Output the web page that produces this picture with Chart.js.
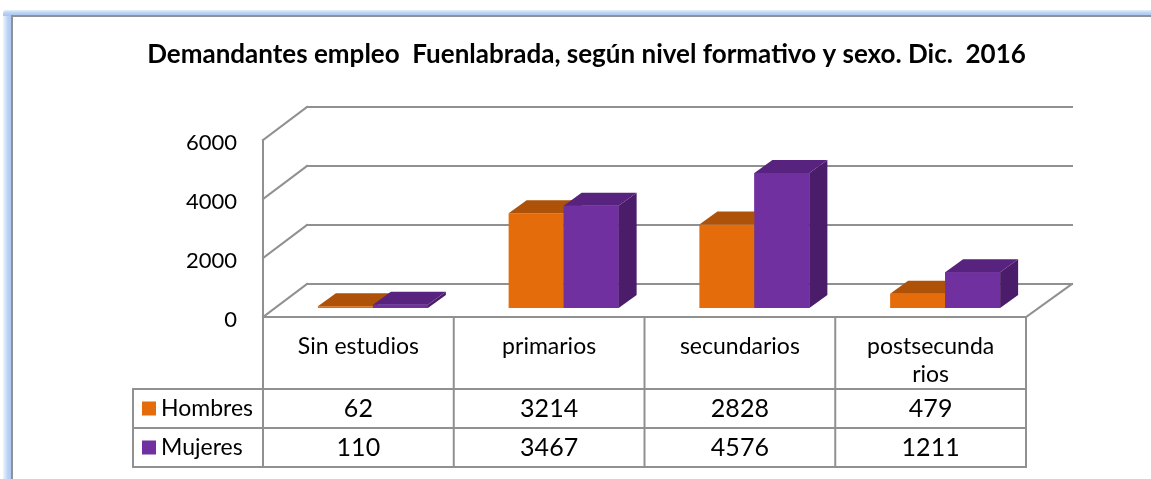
<!DOCTYPE html>
<html><head><meta charset="utf-8">
<script src="https://cdn.jsdelivr.net/npm/chart.js@4.4.1/dist/chart.umd.min.js"></script>
<style>
html,body{margin:0;padding:0;background:#fff;overflow:hidden;width:1151px;height:479px;}
.sl{position:absolute;left:3px;top:10px;width:9px;height:520px;background:linear-gradient(to right,#eef4fd,#bcd5f5 50%,#a7c5ee);border-top-left-radius:4px;}
.st{position:absolute;left:3px;top:10px;width:1200px;height:6px;background:linear-gradient(to bottom,#e6effc,#b8d2f4 50%,#a7c5ee);border-top-left-radius:4px;}
.gl{position:absolute;left:11px;top:15px;width:1200px;height:520px;border-left:2px solid #8f9296;border-top:2px solid #8f9296;background:#fff;}
canvas{position:absolute;left:0;top:0;}
</style></head>
<body>
<div class="sl"></div><div class="st"></div><div class="gl"></div>
<canvas id="c" width="1151" height="479"></canvas>
<script>
const titleText = 'Demandantes empleo  Fuenlabrada, según nivel formativo y sexo. Dic.  2016';
const categories = ['Sin estudios', 'primarios', 'secundarios', 'postsecundarios'];
const categoryLines = [['Sin estudios'], ['primarios'], ['secundarios'], ['postsecunda', 'rios']];
const seriesNames = ['Hombres', 'Mujeres'];
const hombres = [62, 3214, 2828, 479];
const mujeres = [110, 3467, 4576, 1211];
const yTicks = [0, 2000, 4000, 6000];

const frontColors = ['#E46C0A', '#7030A0'];
const topColors = ['#AE520A', '#58227F'];
const sideColors = ['#9A4808', '#4A1C69'];

const FONT = 'Lato, "Open Sans", sans-serif';
const FLOOR_DX = 44, FLOOR_DY = -33;   // depth of the 3D walls
const BAR_OX = 14.5, BAR_OY = -9;      // bar plane inside the depth
const BAR_DX = 18, BAR_DY = -13;       // bar depth
const LINE = '#909090';

function poly(ctx, pts, color) {
  ctx.beginPath();
  ctx.moveTo(pts[0][0], pts[0][1]);
  for (let i = 1; i < pts.length; i++) ctx.lineTo(pts[i][0], pts[i][1]);
  ctx.closePath();
  ctx.fillStyle = color;
  ctx.fill();
}
function line(ctx, x1, y1, x2, y2) {
  ctx.beginPath(); ctx.moveTo(x1, y1); ctx.lineTo(x2, y2); ctx.stroke();
}

const threeD = {
  id: 'threeD',
  beforeDatasetsDraw(chart) {
    const ctx = chart.ctx, a = chart.chartArea, ys = chart.scales.y;
    ctx.save();
    ctx.strokeStyle = LINE; ctx.lineWidth = 2; ctx.lineCap = 'square';
    const L = a.left, R = a.right;
    yTicks.forEach(v => {
      const y = ys.getPixelForValue(v);
      line(ctx, L, y, L + FLOOR_DX, y + FLOOR_DY);
      line(ctx, L + FLOOR_DX, y + FLOOR_DY, R + FLOOR_DX + 2, y + FLOOR_DY);
    });
    const y0 = ys.getPixelForValue(0);
    line(ctx, L, ys.getPixelForValue(yTicks[yTicks.length - 1]), L, y0);
    line(ctx, L, y0, R, y0);
    line(ctx, R, y0, R + FLOOR_DX + 2, y0 + FLOOR_DY);
    ctx.restore();
    ctx.save();
    ctx.translate(BAR_OX, BAR_OY);
  },
  afterDatasetsDraw(chart) {
    const ctx = chart.ctx;
    const m0 = chart.getDatasetMeta(0), m1 = chart.getDatasetMeta(1);
    const faces = (el, k) => {
      const p = el.getProps(['x', 'y', 'base', 'width'], true);
      const l = p.x - p.width / 2, r = p.x + p.width / 2;
      poly(ctx, [[r, p.y], [r + BAR_DX, p.y + BAR_DY], [r + BAR_DX, p.base + BAR_DY], [r, p.base]], sideColors[k]);
      poly(ctx, [[l, p.y], [r, p.y], [r + BAR_DX, p.y + BAR_DY], [l + BAR_DX, p.y + BAR_DY]], topColors[k]);
    };
    categories.forEach((c, i) => {
      faces(m0.data[i], 0);
      m1.data[i].draw(ctx);
      faces(m1.data[i], 1);
    });
    ctx.restore();
  },
  afterDraw(chart) {
    const ctx = chart.ctx, a = chart.chartArea, xs = chart.scales.x, ys = chart.scales.y;
    const y0 = ys.getPixelForValue(0);
    const colW = (a.right - a.left) / categories.length;
    const rowH = [72, 39, 39];
    const r1 = y0 + rowH[0], r2 = r1 + rowH[1], r3 = r2 + rowH[2];
    const legL = 133;
    ctx.save();
    // title
    ctx.fillStyle = '#000';
    ctx.font = 'bold 26px ' + FONT;
    ctx.textAlign = 'center'; ctx.textBaseline = 'middle';
    ctx.fillText(titleText, 586.5, 55);
    // table lines
    ctx.strokeStyle = LINE; ctx.lineWidth = 2; ctx.lineCap = 'square';
    for (let k = 0; k <= categories.length; k++) {
      const x = a.left + k * colW;
      line(ctx, x, y0, x, r3);
    }
    line(ctx, legL, r1, a.right, r1);
    line(ctx, legL, r2, a.right, r2);
    line(ctx, legL, r3, a.right, r3);
    line(ctx, legL, r1, legL, r3);
    // category labels
    ctx.fillStyle = '#000';
    ctx.font = '23px ' + FONT;
    categoryLines.forEach((lines, i) => {
      const cx = xs.getPixelForValue(i);
      lines.forEach((t, j) => ctx.fillText(t, cx, y0 + 30 + j * 28));
    });
    // values and legend keys
    [hombres, mujeres].forEach((arr, k) => {
      const cy = [r1, r2][k] + rowH[k + 1] / 2;
      ctx.font = '25px ' + FONT;
      arr.forEach((v, i) => ctx.fillText(String(v), xs.getPixelForValue(i), cy));
      ctx.fillStyle = frontColors[k];
      ctx.fillRect(142, cy - 7, 14, 14);
      ctx.fillStyle = '#000';
      ctx.textAlign = 'left';
      ctx.font = '23px ' + FONT;
      ctx.fillText(seriesNames[k], 161, cy);
      ctx.textAlign = 'center';
    });
    ctx.restore();
  }
};

new Chart(document.getElementById('c'), {
  type: 'bar',
  data: {
    labels: categories,
    datasets: [
      { label: seriesNames[0], data: hombres, backgroundColor: frontColors[0], clip: false },
      { label: seriesNames[1], data: mujeres, backgroundColor: frontColors[1], clip: false }
    ]
  },
  options: {
    responsive: false,
    animation: false,
    devicePixelRatio: 1,
    layout: { padding: { left: 0, right: 125, top: 140, bottom: 162 } },
    datasets: { bar: { categoryPercentage: 0.5767, barPercentage: 1, borderWidth: 0 } },
    plugins: { legend: { display: false }, title: { display: false }, tooltip: { enabled: false } },
    scales: {
      x: { display: false },
      y: {
        min: 0, max: 6000,
        afterFit: s => { s.width = 263; },
        afterBuildTicks: s => { s.ticks = yTicks.map(v => ({ value: v })); },
        grid: { display: false, drawTicks: false },
        border: { display: false },
        ticks: { padding: 26, labelOffset: 3, color: '#000', font: { family: FONT, size: 22 }, callback: v => String(v) }
      }
    }
  },
  plugins: [threeD]
});
</script>
</body></html>
